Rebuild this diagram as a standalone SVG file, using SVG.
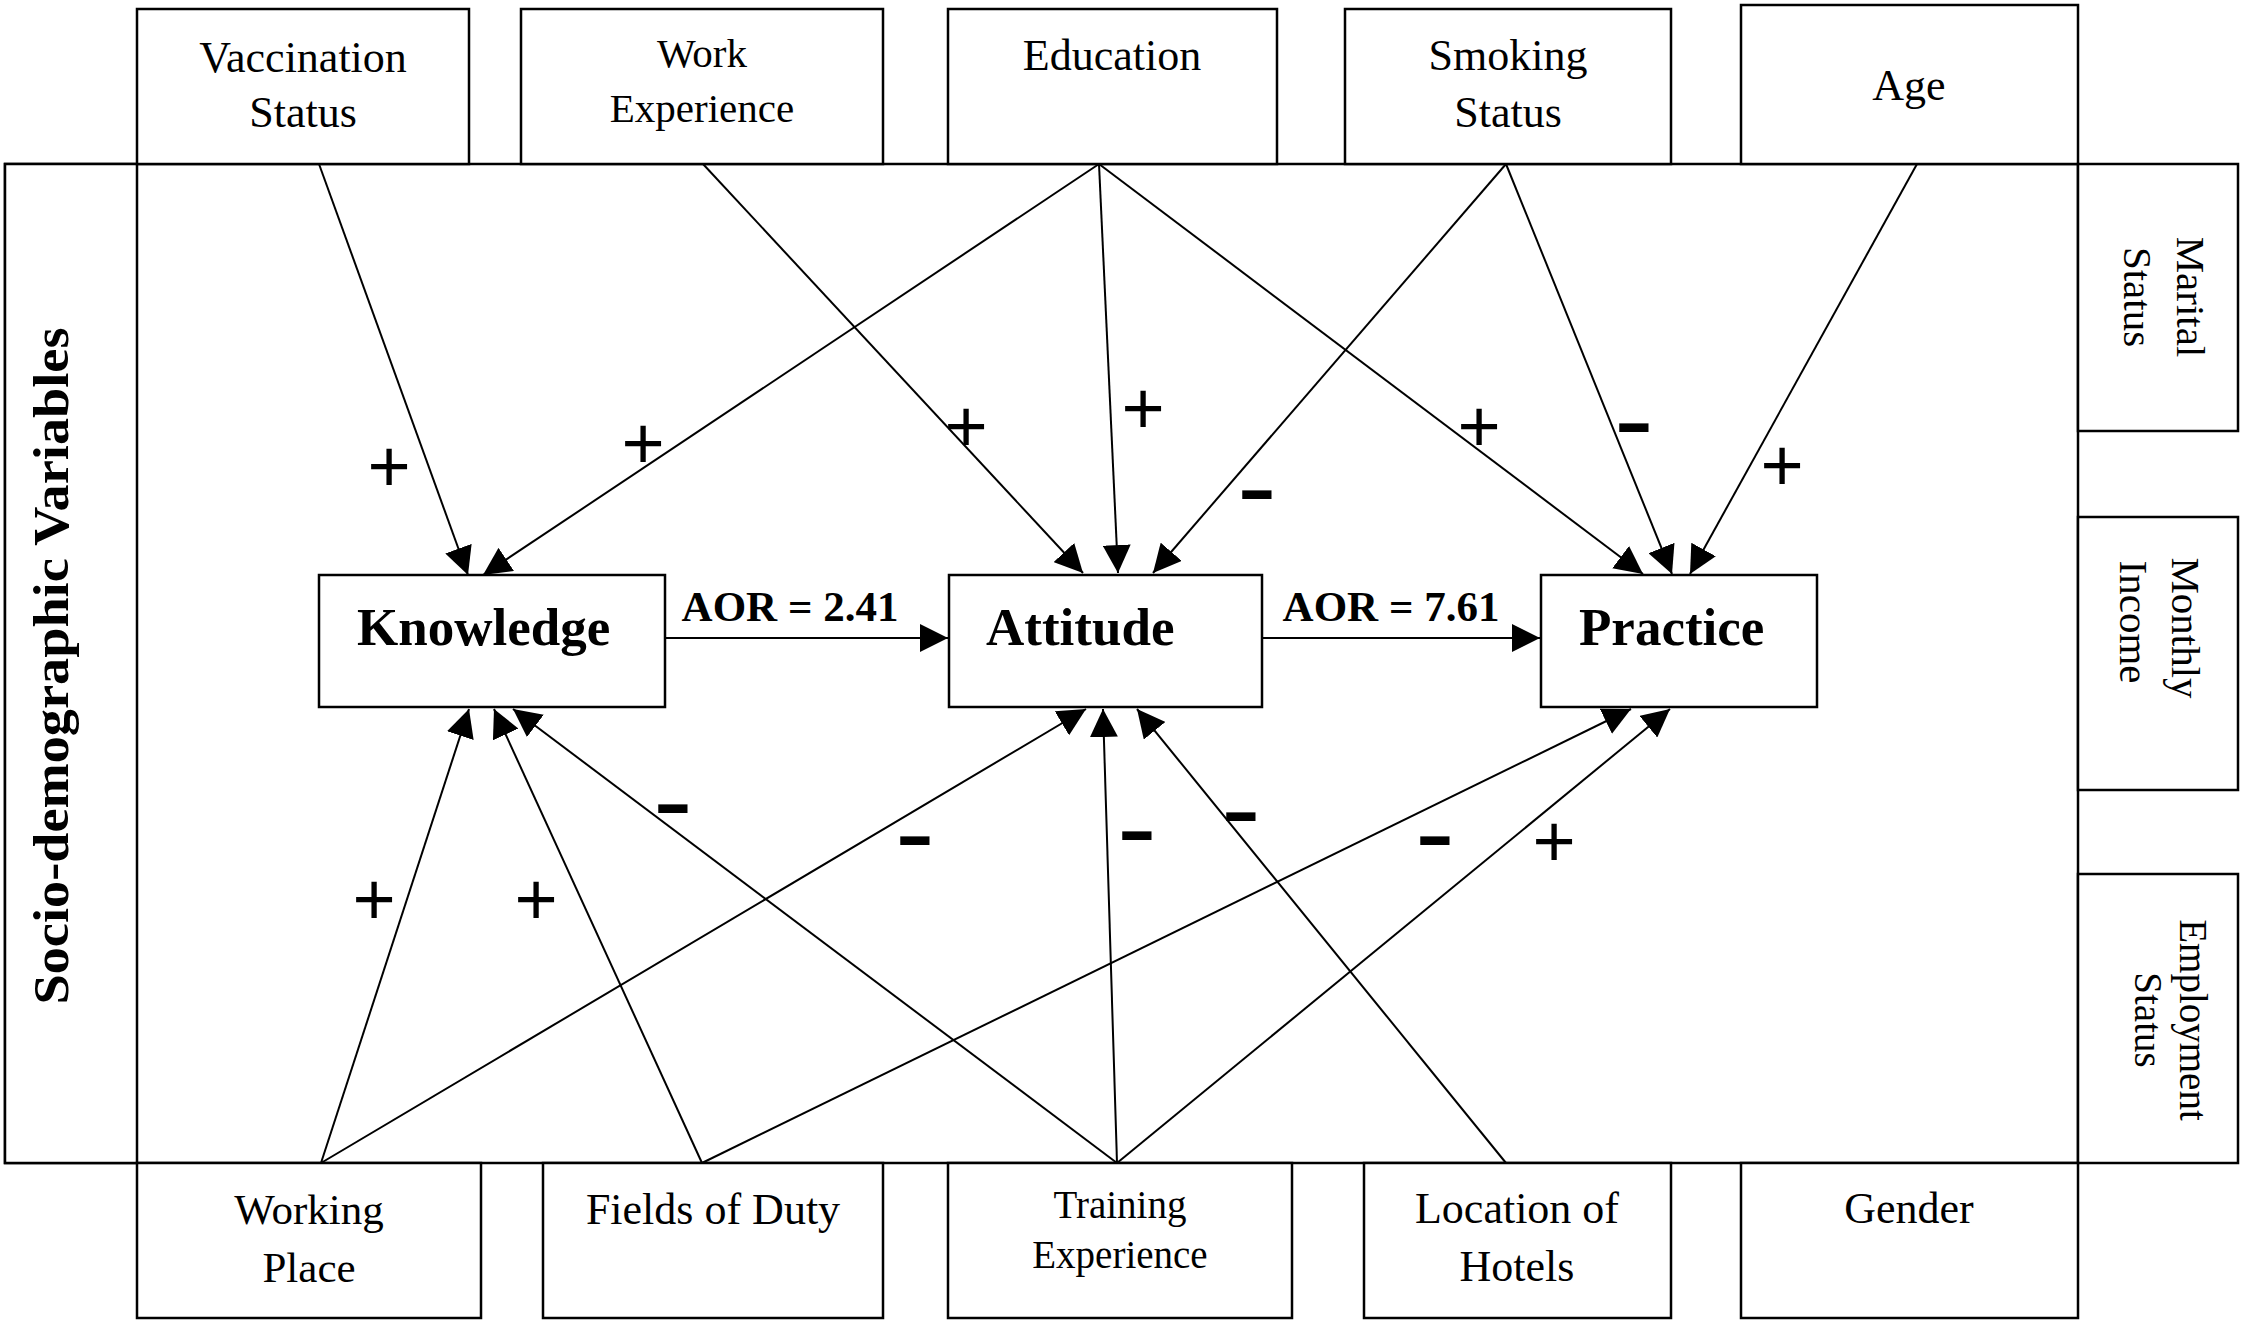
<svg xmlns="http://www.w3.org/2000/svg" width="2245" height="1324" viewBox="0 0 2245 1324">
<style>
.box{fill:#fff;stroke:#000;stroke-width:2.5}
.frame{fill:none;stroke:#000;stroke-width:2.5}
.t{font-family:"Liberation Serif","Times New Roman",serif;fill:#000;text-anchor:middle}
.tb{font-family:"Liberation Serif","Times New Roman",serif;font-weight:bold;fill:#000}
.c{stroke:#000;stroke-width:2;fill:none;marker-end:url(#ah)}
.plus{font-family:"Liberation Sans",Arial,sans-serif;font-size:74px;fill:#000;text-anchor:middle}
.minus{font-family:"Liberation Sans",Arial,sans-serif;font-weight:bold;font-size:72px;fill:#000;text-anchor:middle}
</style>
<defs>
<marker id="ah" viewBox="0 0 28 28" refX="28" refY="14" markerWidth="28" markerHeight="28" orient="auto" markerUnits="userSpaceOnUse">
<path d="M0,0 L28,14 L0,28 Z" fill="#000"/>
</marker>
</defs>
<rect width="2245" height="1324" fill="#fff"/>
<rect class="frame" x="5" y="164" width="2073" height="999"/>

<g id="socio">
<rect class="box" x="5" y="164" width="132" height="999"/>
<text class="tb" font-size="50" text-anchor="middle" textLength="677" lengthAdjust="spacingAndGlyphs" transform="translate(68,666) rotate(-90)">Socio-demographic Variables</text>
</g>

<g id="vaccination">
<rect class="box" x="137" y="9" width="332" height="155"/>
<text class="t" font-size="44" x="303" y="72">Vaccination</text>
<text class="t" font-size="44" x="303" y="127">Status</text>
</g>
<g id="work">
<rect class="box" x="521" y="9" width="362" height="155"/>
<text class="t" font-size="41" x="702" y="67">Work</text>
<text class="t" font-size="41" x="702" y="122">Experience</text>
</g>
<g id="education">
<rect class="box" x="948" y="9" width="329" height="155"/>
<text class="t" font-size="44" x="1112" y="70">Education</text>
</g>
<g id="smoking">
<rect class="box" x="1345" y="9" width="326" height="155"/>
<text class="t" font-size="44" x="1508" y="70">Smoking</text>
<text class="t" font-size="44" x="1508" y="127">Status</text>
</g>
<g id="age">
<rect class="box" x="1741" y="5" width="337" height="159"/>
<text class="t" font-size="44" x="1909" y="100">Age</text>
</g>

<g id="marital">
<rect class="box" x="2078" y="164" width="160" height="267"/>
<text class="t" font-size="41" transform="translate(2177,297) rotate(90)">Marital</text>
<text class="t" font-size="41" transform="translate(2124,297) rotate(90)">Status</text>
</g>
<g id="income">
<rect class="box" x="2078" y="517" width="160" height="273"/>
<text class="t" font-size="41" transform="translate(2172,628) rotate(90)">Monthly</text>
<text class="t" font-size="41" transform="translate(2120,622) rotate(90)">Income</text>
</g>
<g id="employment">
<rect class="box" x="2078" y="874" width="160" height="289"/>
<text class="t" font-size="39" transform="translate(2180,1020) rotate(90)">Employment</text>
<text class="t" font-size="39" transform="translate(2135,1020) rotate(90)">Status</text>
</g>

<g id="workingplace">
<rect class="box" x="137" y="1163" width="344" height="155"/>
<text class="t" font-size="43" x="309" y="1224">Working</text>
<text class="t" font-size="43" x="309" y="1282">Place</text>
</g>
<g id="fields">
<rect class="box" x="543" y="1163" width="340" height="155"/>
<text class="t" font-size="44" x="713" y="1224">Fields of Duty</text>
</g>
<g id="training">
<rect class="box" x="948" y="1163" width="344" height="155"/>
<text class="t" font-size="39" x="1120" y="1218">Training</text>
<text class="t" font-size="39" x="1120" y="1268">Experience</text>
</g>
<g id="location">
<rect class="box" x="1364" y="1163" width="307" height="155"/>
<text class="t" font-size="44" x="1517" y="1223">Location of</text>
<text class="t" font-size="44" x="1517" y="1281">Hotels</text>
</g>
<g id="gender">
<rect class="box" x="1741" y="1163" width="337" height="155"/>
<text class="t" font-size="44" x="1909" y="1223">Gender</text>
</g>

<g id="knowledge">
<rect class="box" x="319" y="575" width="346" height="132"/>
<text class="tb" font-size="53" x="357" y="645">Knowledge</text>
</g>
<g id="attitude">
<rect class="box" x="949" y="575" width="313" height="132"/>
<text class="tb" font-size="53" x="986" y="645">Attitude</text>
</g>
<g id="practice">
<rect class="box" x="1541" y="575" width="276" height="132"/>
<text class="tb" font-size="53" x="1579" y="645">Practice</text>
</g>

<g id="connectors">
<line class="c" x1="665" y1="638" x2="948" y2="638"/>
<line class="c" x1="1262" y1="638" x2="1540" y2="638"/>
<line class="c" x1="319" y1="164" x2="468" y2="575"/>
<line class="c" x1="1099" y1="164" x2="483" y2="575"/>
<line class="c" x1="703" y1="164" x2="1083" y2="573"/>
<line class="c" x1="1099" y1="164" x2="1118" y2="573"/>
<line class="c" x1="1506" y1="164" x2="1153" y2="573"/>
<line class="c" x1="1099" y1="164" x2="1643" y2="574"/>
<line class="c" x1="1506" y1="164" x2="1672" y2="574"/>
<line class="c" x1="1917" y1="164" x2="1690" y2="574"/>
<line class="c" x1="321" y1="1163" x2="469" y2="709"/>
<line class="c" x1="702" y1="1163" x2="494" y2="709"/>
<line class="c" x1="1117" y1="1163" x2="513" y2="709"/>
<line class="c" x1="321" y1="1163" x2="1086" y2="709"/>
<line class="c" x1="1117" y1="1163" x2="1103" y2="709"/>
<line class="c" x1="1506" y1="1163" x2="1137" y2="709"/>
<line class="c" x1="702" y1="1163" x2="1631" y2="709"/>
<line class="c" x1="1117" y1="1163" x2="1670" y2="709"/>
<text class="tb" font-size="43" text-anchor="middle" x="790" y="621">AOR = 2.41</text>
<text class="tb" font-size="43" text-anchor="middle" x="1391" y="621">AOR = 7.61</text>
<text class="plus" x="389" y="492">+</text>
<text class="plus" x="643" y="469">+</text>
<text class="plus" x="966" y="452">+</text>
<text class="plus" x="1143" y="434">+</text>
<text class="plus" x="1479" y="452">+</text>
<text class="plus" x="1782" y="491">+</text>
<text class="plus" x="374" y="925">+</text>
<text class="plus" x="536" y="925">+</text>
<text class="plus" x="1554" y="867">+</text>
<text class="minus" transform="translate(1257,513) scale(1.6,1)">-</text>
<text class="minus" transform="translate(1634,446) scale(1.6,1)">-</text>
<text class="minus" transform="translate(673,827) scale(1.6,1)">-</text>
<text class="minus" transform="translate(915,859) scale(1.6,1)">-</text>
<text class="minus" transform="translate(1137,854) scale(1.6,1)">-</text>
<text class="minus" transform="translate(1241,835) scale(1.6,1)">-</text>
<text class="minus" transform="translate(1435,859) scale(1.6,1)">-</text>
</g>
</svg>
